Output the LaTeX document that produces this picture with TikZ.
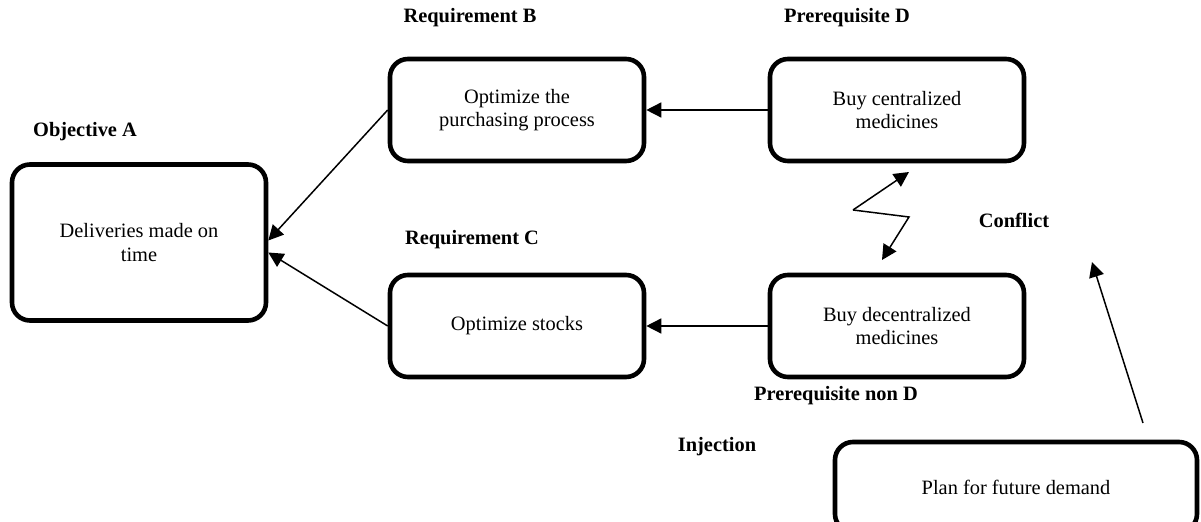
\documentclass[tikz,border=0pt]{standalone}
\usepackage{fontspec}
\setmainfont{Liberation Serif}
\usetikzlibrary{arrows.meta, positioning}

\begin{document}
\begin{tikzpicture}[x=0.5pt, y=-0.5pt,
  box/.style={draw, line width=2.3pt, rounded corners=9pt, minimum width=127pt,
              minimum height=51pt, align=center, font=\fontsize{10.2}{11.8}\selectfont},
  tag/.style={font=\fontsize{10.2}{12}\selectfont\bfseries},
  link/.style={line width=0.75pt, -{Triangle[length=7.5pt, width=7.5pt]}},
]
  \useasboundingbox (0,0) rectangle (1201,522);

  % the five boxes of the tree
  \node[box, minimum height=78pt] (objA) at (139,242.5) {Deliveries made on\\time};
  \node[box] (reqB)  at (517,110) {Optimize the\\purchasing process};
  \node[box] (preD)  at (897,110) {Buy centralized\\medicines};
  \node[box] (reqC)  at (517,326) {Optimize stocks};
  \node[box] (preND) at (897,326) {Buy decentralized\\medicines};

  \begin{scope}
    \clip (0,0) rectangle (1201,522);
    \node[box, minimum width=181pt, minimum height=45pt] (plan) at (1016,487)
      {Plan for future demand};
  \end{scope}

  \node[tag] (tagA)  at (85,132)  {Objective A};
  \node[tag] (tagB)  at (470,18)  {Requirement B};
  \node[tag] (tagD)  at (847,18)  {Prerequisite D};
  \node[tag] (tagC)  at (472,240) {Requirement C};
  \node[tag] (tagND) at (836,396) {Prerequisite non D};
  \node[tag] (tagCf) at (1014,220) {Conflict};
  \node[tag] (tagIn) at (717,447) {Injection};

  \draw[link] (reqB.west) -- ([yshift=1pt]objA.east);
  \draw[link] (reqC.west) -- ([yshift=-5pt]objA.east);
  \draw[link] (preD) -- (reqB);
  \draw[link] (preND) -- (reqC);

  % conflict zigzag between the two prerequisites
  \coordinate (zz0) at (853,210);
  \coordinate (zz1) at (909,172);
  \coordinate (zz2) at (909,217);
  \coordinate (zz3) at (882,260);
  \draw[link] (zz0) -- (zz1);
  \draw[link] (zz0) -- (zz2) -- (zz3);

  % injection pointing at the conflict
  \coordinate (inj) at (1143,423);
  \coordinate (cf)  at (1092,262);
  \draw[link] (inj) -- (cf);
\end{tikzpicture}
\end{document}
